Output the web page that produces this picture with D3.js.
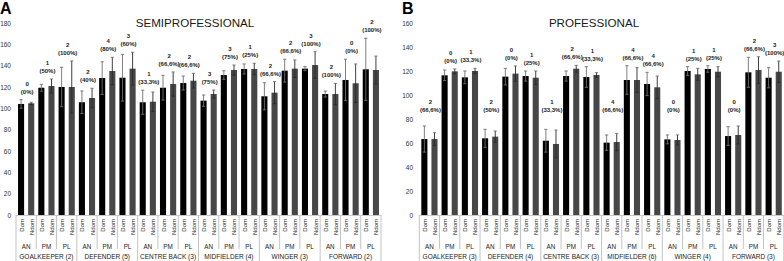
<!DOCTYPE html>
<html>
<head>
<meta charset="utf-8">
<script src="https://cdn.jsdelivr.net/npm/d3@7"></script>
<style>
  html, body { margin: 0; padding: 0; background: #fff; }
  svg { display: block; font-family: "Liberation Sans", Arial, sans-serif; }
</style>
</head>
<body>
<svg id="chart" width="784" height="261"></svg>
<script>
// ---------- DATA ----------
const positionKeys = ["GK", "DEF", "CB", "MID", "WING", "FWD"];
const tests = ["AN", "PM", "PL"];
const sides = ["Dom", "Ndom"];

const semiPositions = ["GOALKEEPER (2)", "DEFENDER (5)", "CENTRE BACK (3)", "MIDFIELDER (4)", "WINGER (3)", "FORWARD (2)"];
const proPositions  = ["GOALKEEPER (3)", "DEFENDER (4)", "CENTRE BACK (3)", "MIDFIELDER (6)", "WINGER (4)", "FORWARD (3)"];

// values ordered position x test (AN, PM, PL)
const semiDom    = [104.1, 119.3, 120.0, 105.7, 128.4, 128.7, 105.7, 119.3, 123.7, 107.2, 131.2, 136.9, 111.3, 135.3, 137.2, 113.4, 126.6, 136.6];
const semiDomSD  = [4.0, 3.2, 18.5, 10.6, 15.3, 21.9, 11.3, 11.6, 6.6, 5.3, 4.0, 4.7, 12.7, 10.7, 1.9, 2.8, 19.4, 29.1];
const semiNdom   = [104.7, 120.9, 120.0, 109.7, 135.0, 137.2, 106.2, 122.8, 125.9, 113.4, 135.9, 136.9, 114.7, 137.2, 140.6, 113.4, 123.5, 135.9];
const semiNdomSD = [1.0, 6.6, 24.4, 9.1, 12.8, 15.4, 9.1, 11.3, 6.9, 3.8, 4.7, 5.3, 10.3, 8.2, 12.5, 10.0, 18.1, 13.1];
const semiCounts = ["0", "1", "2", "2", "4", "3", "1", "2", "2", "3", "3", "1", "2", "2", "3", "2", "0", "2"];
const semiPct    = ["(0%)", "(50%)", "(100%)", "(40%)", "(80%)", "(60%)", "(33,3%)", "(66,6%)", "(66,6%)", "(75%)", "(75%)", "(25%)", "(66,6%)", "(66,6%)", "(100%)", "(100%)", "(0%)", "(100%)"];

const proDom    = [63.3, 116.4, 114.7, 63.9, 115.3, 115.8, 61.9, 115.8, 115.0, 60.3, 112.5, 109.2, 63.0, 120.0, 121.7, 65.8, 118.9, 114.4];
const proDomSD  = [10.9, 4.4, 5.3, 7.5, 6.9, 4.2, 9.5, 4.2, 8.6, 6.4, 11.9, 9.7, 3.7, 3.6, 2.7, 7.8, 12.5, 8.4];
const proNdom   = [63.3, 119.7, 120.0, 65.3, 117.8, 114.4, 59.2, 121.9, 116.7, 60.8, 112.5, 106.4, 62.5, 117.2, 119.4, 66.7, 120.8, 119.4];
const proNdomSD = [5.3, 2.0, 2.2, 4.7, 6.4, 5.6, 11.6, 2.8, 1.9, 7.2, 10.3, 9.4, 4.2, 5.0, 4.2, 7.5, 11.1, 8.9];
const proCounts = ["2", "0", "1", "2", "0", "1", "1", "2", "1", "4", "4", "4", "0", "1", "1", "0", "2", "3"];
const proPct    = ["(66,6%)", "(0%)", "(33,3%)", "(50%)", "(0%)", "(25%)", "(33,3%)", "(66,6%)", "(33,3%)", "(66,6%)", "(66,6%)", "(66,6%)", "(0%)", "(25%)", "(25%)", "(0%)", "(66,6%)", "(100%)"];

const semiTicks = [0, 20, 40, 60, 80, 100, 120, 140, 160, 180];
const proTicks  = [0, 20, 40, 60, 80, 100, 120, 140, 160];

// ---------- LAYOUT ----------
const panels = [
  { letter: "A", letterX: 0, title: "SEMIPROFESSIONAL", titleX: 195, x0: 16, x1: 381, labelRight: 11,
    yMax: 180, ticks: semiTicks, positions: semiPositions,
    dom: semiDom, domSD: semiDomSD, ndom: semiNdom, ndomSD: semiNdomSD, counts: semiCounts, pct: semiPct, labelFloor: null },
  { letter: "B", letterX: 402, title: "PROFESSIONAL", titleX: 594, x0: 419.3, x1: 783.8, labelRight: 413,
    yMax: 160, ticks: proTicks, positions: proPositions,
    dom: proDom, domSD: proDomSD, ndom: proNdom, ndomSD: proNdomSD, counts: proCounts, pct: proPct, labelFloor: 86 }
];

const svg = d3.select("#chart");
const yTop = 23, yZero = 215;
const colDom = "#000000", colNdom = "#474747";

panels.forEach(P => {
  const g = svg.append("g");
  const keys = [];
  positionKeys.forEach(p => tests.forEach(t => sides.forEach(s => keys.push(`${p}|${t}|${s}`))));
  const x = d3.scaleBand().domain(keys).range([P.x0, P.x1]).paddingInner(0.4).paddingOuter(0.2);
  const y = d3.scaleLinear().domain([0, P.yMax]).range([yZero, yTop]);
  const step = x.step(), bw = x.bandwidth(), half = (step - bw) / 2;

  // records
  const recs = [];
  positionKeys.forEach((p, pi) => tests.forEach((t, ti) => {
    const i = pi * 3 + ti;
    recs.push({ key: `${p}|${t}|Dom`, side: "Dom", v: P.dom[i], sd: P.domSD[i] });
    recs.push({ key: `${p}|${t}|Ndom`, side: "Ndom", v: P.ndom[i], sd: P.ndomSD[i] });
  }));

  // panel letter & title
  g.append("text").attr("x", P.letterX).attr("y", 14).attr("font-size", 16).attr("font-weight", "bold")
    .attr("fill", "#000").text(P.letter);
  g.append("text").attr("x", P.titleX).attr("y", 27).attr("text-anchor", "middle")
    .attr("font-size", 11.6).attr("fill", "#1a1a1a").text(P.title);

  // y axis
  const ay = g.append("g").attr("transform", `translate(${P.labelRight},0)`)
    .call(d3.axisLeft(y).tickValues(P.ticks).tickSize(0).tickPadding(0));
  ay.select(".domain").remove();
  ay.selectAll("text").attr("font-size", 6.5).attr("fill", "#333").attr("font-family", "Liberation Sans, Arial, sans-serif");

  // bars
  g.selectAll("rect.bar").data(recs).join("rect")
    .attr("x", d => x(d.key)).attr("width", bw)
    .attr("y", d => y(d.v)).attr("height", d => y(0) - y(d.v))
    .attr("fill", d => d.side === "Dom" ? colDom : colNdom);

  // error bars
  const eb = g.selectAll("g.err").data(recs).join("g").attr("stroke", d => d.side === "Dom" ? "#707070" : "#2a2a2a").attr("stroke-width", 0.9);
  eb.append("line").attr("x1", d => x(d.key) + bw / 2).attr("x2", d => x(d.key) + bw / 2)
    .attr("y1", d => y(d.v + d.sd)).attr("y2", d => y(d.v - d.sd));
  eb.append("line").attr("x1", d => x(d.key) + bw / 2 - 1.6).attr("x2", d => x(d.key) + bw / 2 + 1.6)
    .attr("y1", d => y(d.v + d.sd)).attr("y2", d => y(d.v + d.sd)).attr("stroke", "#707070");
  eb.append("line").attr("x1", d => x(d.key) + bw / 2 - 1.6).attr("x2", d => x(d.key) + bw / 2 + 1.6)
    .attr("y1", d => y(d.v - d.sd)).attr("y2", d => y(d.v - d.sd));

  // baseline
  g.append("line").attr("x1", P.x0).attr("x2", P.x1).attr("y1", y(0) + 0.5).attr("y2", y(0) + 0.5)
    .attr("stroke", "#c8c8c8").attr("stroke-width", 1);

  // category separators
  for (let k = 0; k <= 18; k++) {
    const idx = Math.min(k * 2, keys.length - 1);
    const bx = k < 18 ? x(keys[k * 2]) - half : x(keys[keys.length - 1]) + bw + half;
    const isPos = k % 3 === 0;
    g.append("line").attr("x1", bx).attr("x2", bx).attr("y1", y(0)).attr("y2", isPos ? 261 : 249)
      .attr("stroke", "#c4c4c4").attr("stroke-width", 1);
  }

  // Dom / Ndom labels
  g.selectAll("text.side").data(recs).join("text")
    .attr("transform", d => `translate(${x(d.key) + bw / 2 + 0.5},${y(0) + 4}) rotate(-90)`)
    .attr("text-anchor", "end").attr("dominant-baseline", "central")
    .attr("font-size", 6).attr("fill", "#222").text(d => d.side);

  // test labels and annotations
  positionKeys.forEach((p, pi) => tests.forEach((t, ti) => {
    const i = pi * 3 + ti;
    const kd = `${p}|${t}|Dom`, kn = `${p}|${t}|Ndom`;
    const cx = (x(kd) + x(kn) + bw) / 2;
    g.append("text").attr("x", cx).attr("y", 246).attr("text-anchor", "middle").attr("dominant-baseline", "central")
      .attr("font-size", 6.3).attr("fill", "#222").text(t);
    const errTop = Math.min(y(P.dom[i] + P.domSD[i]), y(P.ndom[i] + P.ndomSD[i]));
    let base = errTop - 6;
    if (P.labelFloor !== null) base = Math.min(base, y(P.labelFloor));
    g.append("text").attr("x", cx + 1).attr("y", base).attr("text-anchor", "middle")
      .attr("font-size", 6).attr("font-weight", "bold").attr("fill", "#222").text(P.pct[i]);
    g.append("text").attr("x", cx + 1).attr("y", base - 8).attr("text-anchor", "middle")
      .attr("font-size", 6).attr("font-weight", "bold").attr("fill", "#222").text(P.counts[i]);
  }));

  // position labels
  positionKeys.forEach((p, pi) => {
    const a = x(`${p}|AN|Dom`), b = x(`${p}|PL|Ndom`) + bw;
    g.append("text").attr("x", (a + b) / 2).attr("y", 256).attr("text-anchor", "middle").attr("dominant-baseline", "central")
      .attr("font-size", 6.5).attr("fill", "#222").text(P.positions[pi]);
  });
});
</script>
</body>
</html>
